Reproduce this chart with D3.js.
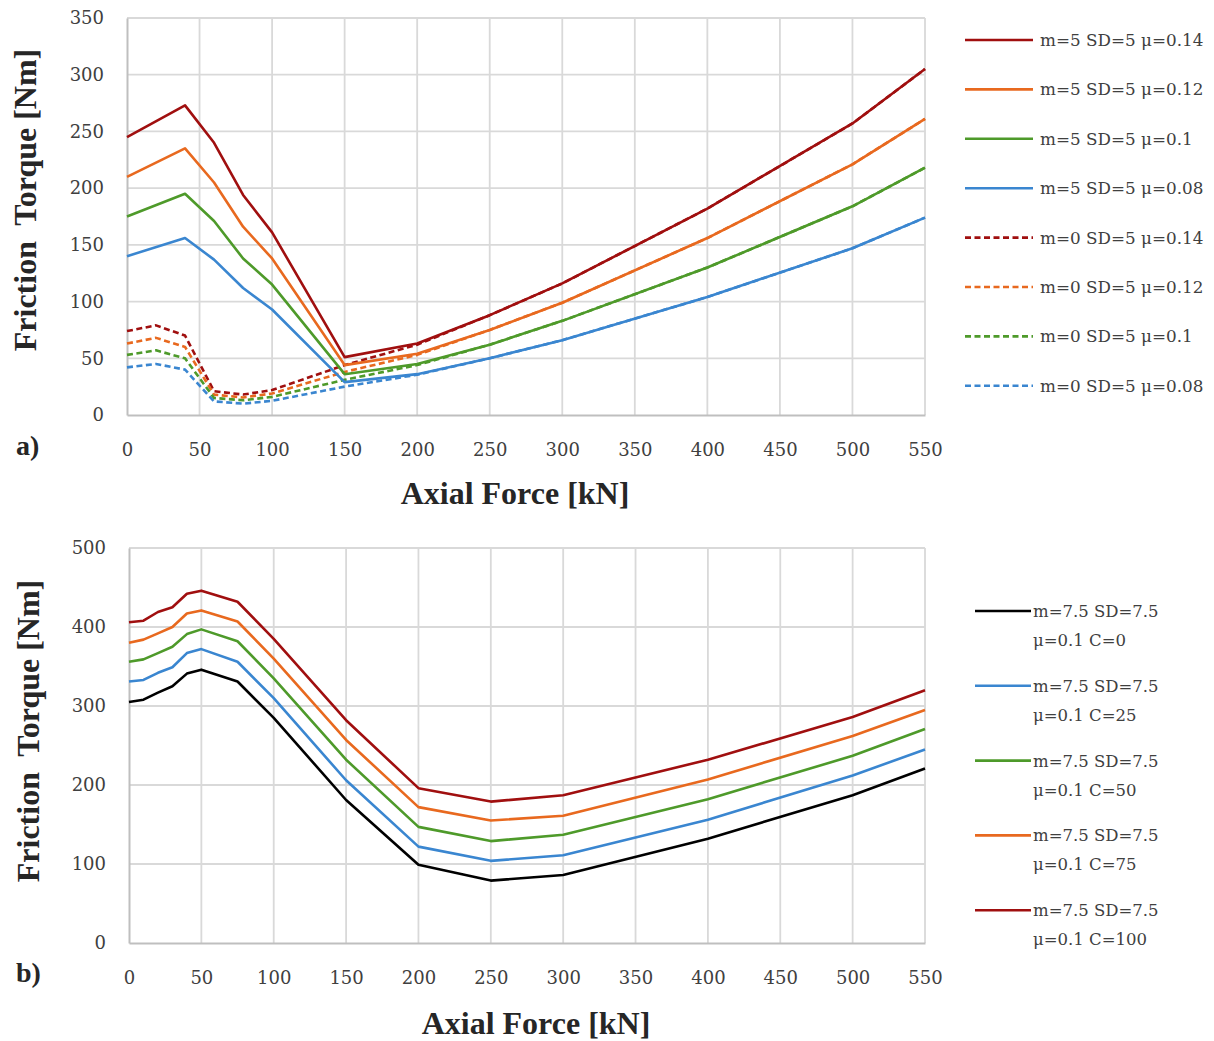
<!DOCTYPE html>
<html>
<head>
<meta charset="utf-8">
<script src="https://cdn.jsdelivr.net/npm/d3@7"></script>
<style>
  html, body { margin: 0; padding: 0; background: #fff; }
  svg { display: block; }
</style>
</head>
<body>
<div id="chart"></div>
<script>
// ---------- DATA: panel a ----------
const xSolidA = [0, 40, 60, 80, 100, 150, 200, 250, 300, 400, 500, 550];
const xDashA  = [0, 20, 40, 60, 80, 100, 150, 200, 250, 300, 400, 500, 550];

const m5_mu014 = [245, 273, 240, 194, 161, 51, 63, 88, 116, 182, 257, 305];
const m5_mu012 = [210, 235, 205, 166, 138, 44, 54, 75, 99, 156, 221, 261];
const m5_mu010 = [175, 195, 171, 138, 115, 36, 45, 62, 83, 130, 184, 218];
const m5_mu008 = [140, 156, 137, 112, 93, 29, 36, 50, 66, 104, 147, 174];

const m0_mu014 = [74, 79, 70, 21, 18, 22, 44, 62, 88, 116, 182, 257, 305];
const m0_mu012 = [63, 68, 60, 18, 15.5, 19, 38, 53, 75, 99, 156, 221, 261];
const m0_mu010 = [53, 57, 50, 15, 13, 16, 31, 44, 62, 83, 130, 184, 218];
const m0_mu008 = [42, 45, 40, 12, 10, 12.5, 25, 35.5, 50, 66, 104, 147, 174];

const namesA = ["m=5 SD=5 \u03bc=0.14", "m=5 SD=5 \u03bc=0.12", "m=5 SD=5 \u03bc=0.1", "m=5 SD=5 \u03bc=0.08",
                "m=0 SD=5 \u03bc=0.14", "m=0 SD=5 \u03bc=0.12", "m=0 SD=5 \u03bc=0.1", "m=0 SD=5 \u03bc=0.08"];
const yTicksA = [0, 50, 100, 150, 200, 250, 300, 350];

// ---------- DATA: panel b ----------
const xB = [0, 10, 20, 30, 40, 50, 75, 100, 150, 200, 250, 300, 400, 500, 550];
const c0   = [305, 308, 317, 325, 341, 346, 331, 285, 181, 99, 79, 86, 132, 187, 221];
const c25  = [331, 333, 342, 349, 367, 372, 356, 310, 206, 122, 104, 111, 156, 212, 245];
const c50  = [356, 359, 367, 375, 391, 397, 382, 335, 232, 147, 129, 137, 182, 237, 271];
const c75  = [380, 384, 392, 400, 417, 421, 407, 360, 257, 172, 155, 161, 207, 262, 295];
const c100 = [406, 408, 419, 425, 442, 446, 432, 385, 282, 196, 179, 187, 232, 286, 320];
const namesB1 = ["m=7.5 SD=7.5", "m=7.5 SD=7.5", "m=7.5 SD=7.5", "m=7.5 SD=7.5", "m=7.5 SD=7.5"];
const namesB2 = ["\u03bc=0.1 C=0", "\u03bc=0.1 C=25", "\u03bc=0.1 C=50", "\u03bc=0.1 C=75", "\u03bc=0.1 C=100"];
const yTicksB = [0, 100, 200, 300, 400, 500];

const xTicks = [0, 50, 100, 150, 200, 250, 300, 350, 400, 450, 500, 550];

// ---------- STYLE ----------
const RED = "#A00F0F", ORANGE = "#E8691F", GREEN = "#4E9A2A", BLUE = "#3A86D0", BLACK = "#000000";
const numFont = "'DejaVu Serif', serif";
const titleFont = "'Liberation Serif', serif";

const W = 1214, H = 1041;
const svg = d3.select("#chart").append("svg").attr("width", W).attr("height", H);

function panel(cfg) {
  const x = d3.scaleLinear().domain([0, 550]).range([cfg.left, cfg.right]);
  const y = d3.scaleLinear().domain([0, cfg.ymax]).range([cfg.bottom, cfg.top]);
  const g = svg.append("g");

  // gridlines
  const grid = g.append("g");
  grid.selectAll("line.gx").data(xTicks.slice(1)).join("line")
    .attr("x1", d => x(d)).attr("x2", d => x(d))
    .attr("y1", cfg.top).attr("y2", cfg.bottom)
    .attr("stroke", "#d9d9d9").attr("stroke-width", 1.8);
  grid.selectAll("line.gy").data(cfg.yTicks.slice(1)).join("line")
    .attr("x1", cfg.left).attr("x2", cfg.right)
    .attr("y1", d => y(d)).attr("y2", d => y(d))
    .attr("stroke", "#d9d9d9").attr("stroke-width", 1.8);

  // axes
  const xAxis = d3.axisBottom(x).tickValues(xTicks).tickSize(0).tickPadding(28);
  const gx = g.append("g").attr("transform", `translate(0,${cfg.bottom})`).call(xAxis);
  gx.select(".domain").attr("stroke", "#bfbfbf").attr("stroke-width", 2);
  gx.selectAll("text").attr("font-family", numFont).attr("font-size", 18).attr("fill", "#404040");

  const yAxis = d3.axisLeft(y).tickValues(cfg.yTicks).tickSize(0).tickPadding(23);
  const gy = g.append("g").attr("transform", `translate(${cfg.left},0)`).call(yAxis);
  gy.select(".domain").attr("stroke", "#bfbfbf").attr("stroke-width", 2);
  gy.selectAll("text").attr("font-family", numFont).attr("font-size", 18).attr("fill", "#404040");

  // series
  const line = d3.line().x(d => x(d[0])).y(d => y(d[1]));
  cfg.series.forEach(s => {
    const pts = s.xs.map((xv, i) => [xv, s.ys[i]]);
    g.append("path").datum(pts).attr("d", line)
      .attr("fill", "none").attr("stroke", s.color).attr("stroke-width", 2.6)
      .attr("stroke-linejoin", "round")
      .attr("stroke-dasharray", s.dash ? "6,3.5" : null);
  });

  // titles
  g.append("text").attr("x", cfg.xTitleX).attr("y", cfg.xTitleY).attr("text-anchor", "middle")
    .attr("font-family", titleFont).attr("font-weight", "bold").attr("font-size", 32).attr("fill", "#262626")
    .text("Axial Force [kN]");
  g.append("text").attr("transform", `translate(${cfg.yTitleX},${cfg.yTitleY}) rotate(-90)`)
    .attr("text-anchor", "middle")
    .attr("font-family", titleFont).attr("font-weight", "bold").attr("font-size", 32).attr("fill", "#262626")
    .attr("xml:space", "preserve")
    .text("Friction  Torque [Nm]");
  g.append("text").attr("x", 16).attr("y", cfg.labelY)
    .attr("font-family", titleFont).attr("font-weight", "bold").attr("font-size", 28).attr("fill", "#262626")
    .text(cfg.label);
  return g;
}

// Panel a
const colorsA = [RED, ORANGE, GREEN, BLUE];
const solidA = [m5_mu014, m5_mu012, m5_mu010, m5_mu008];
const dashA = [m0_mu014, m0_mu012, m0_mu010, m0_mu008];
const seriesA = [];
dashA.forEach((ys, i) => seriesA.push({xs: xDashA, ys, color: colorsA[i], dash: true}));
solidA.forEach((ys, i) => seriesA.push({xs: xSolidA, ys, color: colorsA[i], dash: false}));

panel({left: 127, right: 925, top: 18, bottom: 415, ymax: 350, yTicks: yTicksA,
  series: seriesA, xTitleX: 515, xTitleY: 504, yTitleX: 36, yTitleY: 200, labelY: 455, label: "a)"});

// Panel b
const colorsB = [BLACK, BLUE, GREEN, ORANGE, RED];
const valsB = [c0, c25, c50, c75, c100];
const seriesB = valsB.map((ys, i) => ({xs: xB, ys, color: colorsB[i], dash: false}));
panel({left: 129, right: 925, top: 548, bottom: 943, ymax: 500, yTicks: yTicksB,
  series: seriesB.slice().reverse(), xTitleX: 536, xTitleY: 1034, yTitleX: 39, yTitleY: 731, labelY: 982, label: "b)"});

// Legend a
const legA = svg.append("g");
const legColorsA = [RED, ORANGE, GREEN, BLUE, RED, ORANGE, GREEN, BLUE];
namesA.forEach((n, i) => {
  const yy = 40 + i * 49.4;
  legA.append("line").attr("x1", 965).attr("x2", 1033).attr("y1", yy).attr("y2", yy)
    .attr("stroke", legColorsA[i]).attr("stroke-width", 2.6)
    .attr("stroke-dasharray", i >= 4 ? "6,3.5" : null);
  legA.append("text").attr("x", 1040).attr("y", yy + 6)
    .attr("font-family", numFont).attr("font-size", 16.8).attr("fill", "#404040").text(n);
});

// Legend b
const legB = svg.append("g");
namesB1.forEach((n, i) => {
  const yy = 611 + i * 74.8;
  legB.append("line").attr("x1", 975).attr("x2", 1031).attr("y1", yy).attr("y2", yy)
    .attr("stroke", colorsB[i]).attr("stroke-width", 2.6);
  legB.append("text").attr("x", 1033).attr("y", yy + 6)
    .attr("font-family", numFont).attr("font-size", 16.5).attr("fill", "#404040").text(n);
  legB.append("text").attr("x", 1033).attr("y", yy + 35)
    .attr("font-family", numFont).attr("font-size", 16.5).attr("fill", "#404040").text(namesB2[i]);
});
</script>
</body>
</html>
